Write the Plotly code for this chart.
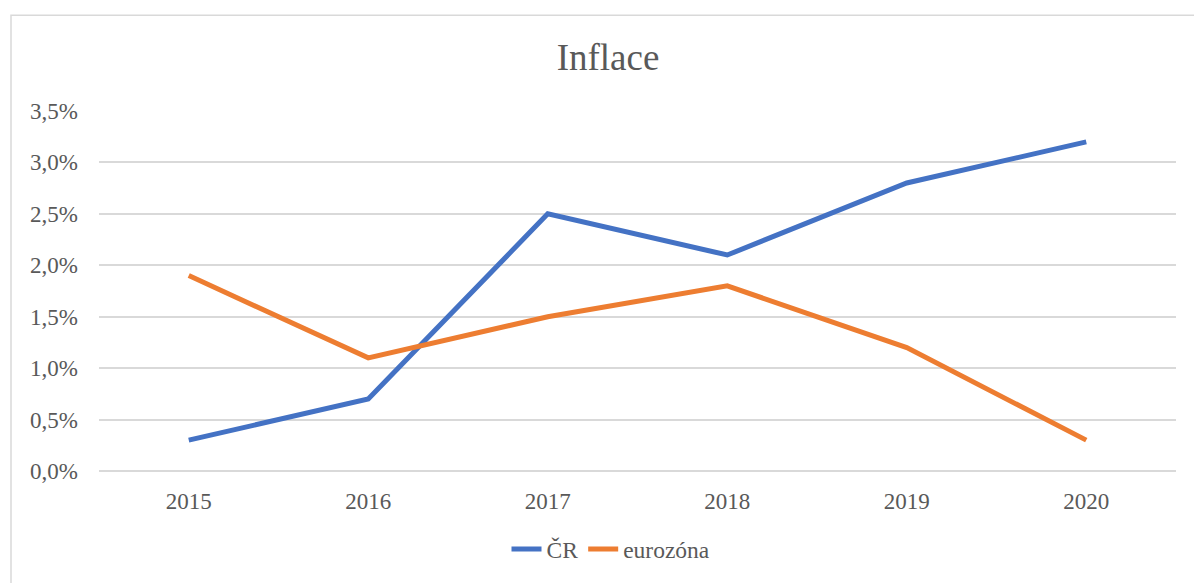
import plotly.graph_objects as go

years = ["2015", "2016", "2017", "2018", "2019", "2020"]
cr = [0.3, 0.7, 2.5, 2.1, 2.8, 3.2]
eurozona = [1.9, 1.1, 1.5, 1.8, 1.2, 0.3]
y_ticks = [0, 0.5, 1.0, 1.5, 2.0, 2.5, 3.0, 3.5]
y_ticktext = [f"{v:.1f}%".replace(".", ",") for v in y_ticks]

FONT = "Liberation Serif, Times New Roman, serif"
GRAY = "#595959"

W, H = 1194, 583
L, R, T, B = 99, 18, 111, 109
pw, ph = W - L - R, H - T - B

fig = go.Figure()
fig.add_trace(go.Scatter(x=years, y=cr, mode="lines", name="ČR",
                         line=dict(color="#4472C4", width=5)))
fig.add_trace(go.Scatter(x=years, y=eurozona, mode="lines", name="eurozóna",
                         line=dict(color="#ED7D31", width=5)))

fig.update_layout(
    width=W, height=H,
    margin=dict(l=L, r=R, t=T, b=B),
    paper_bgcolor="white", plot_bgcolor="white",
    font=dict(family=FONT, color=GRAY, size=23),
    title=dict(text="Inflace", x=(608 - L) / pw, xref="paper", xanchor="center",
               y=1 - 57 / H, yanchor="middle",
               font=dict(family=FONT, size=37, color=GRAY)),
    showlegend=True,
    legend=dict(orientation="h", x=(611 - L) / pw, xanchor="center",
                y=-(553 - (H - B)) / ph, yanchor="middle",
                font=dict(family=FONT, size=23.5, color=GRAY),
                bgcolor="rgba(0,0,0,0)"),
    xaxis=dict(type="category", range=[-0.5, 5.5], showgrid=False,
               showline=False, zeroline=False, ticks="",
               tickfont=dict(family=FONT, size=23, color=GRAY),
               ticklabelstandoff=14),
    yaxis=dict(range=[0, 3.5], tickmode="array", tickvals=y_ticks, ticktext=y_ticktext,
               showgrid=True, gridcolor="#D9D9D9", gridwidth=1.5,
               zeroline=True, zerolinecolor="#D9D9D9", zerolinewidth=1.5,
               showline=False, ticks="",
               tickfont=dict(family=FONT, size=23, color=GRAY),
               ticklabelstandoff=20),
    shapes=[dict(type="rect", xref="paper", yref="paper",
                 x0=(11 - L) / pw, x1=(W + 20 - L) / pw,
                 y0=-(H + 20 - (H - B)) / ph, y1=1 + (T - 14.5) / ph,
                 line=dict(color="#D9D9D9", width=1.5), layer="below")],
)

fig.write_html("out.html", config={"displayModeBar": False},
               post_script="document.body.style.margin='0';document.body.style.overflow='hidden';")
